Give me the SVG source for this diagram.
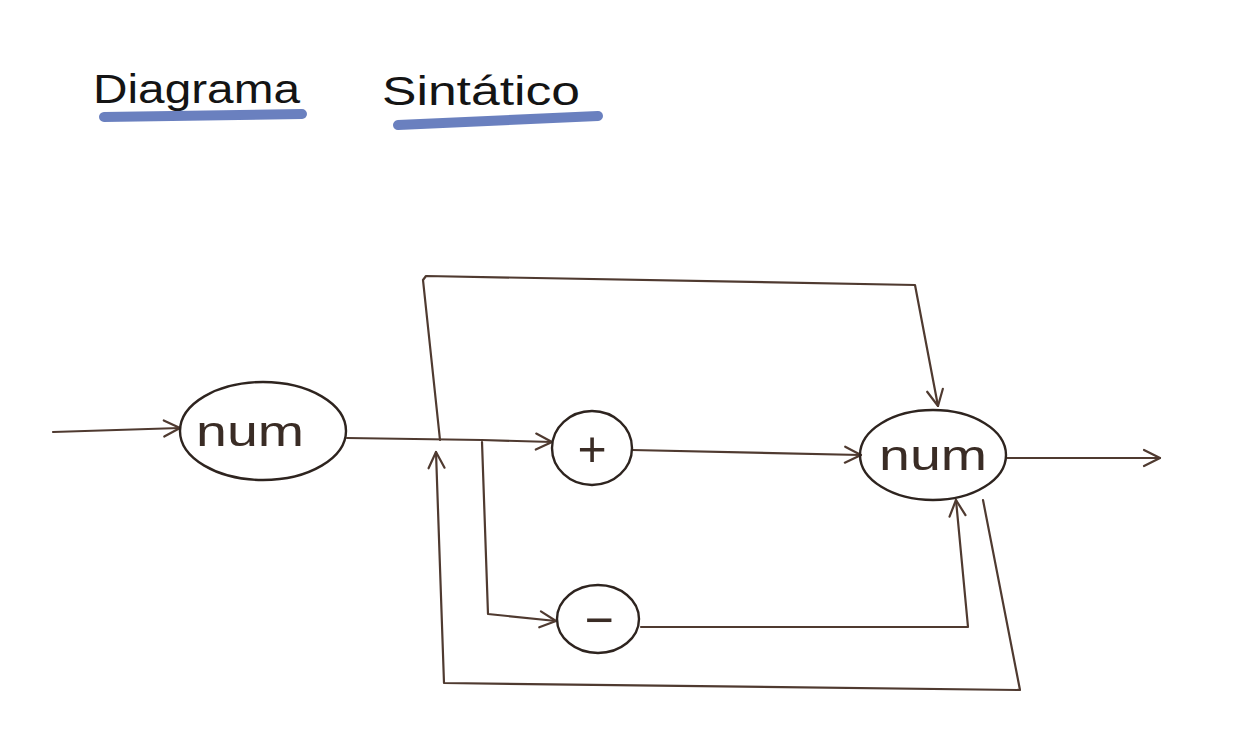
<svg xmlns="http://www.w3.org/2000/svg" width="1252" height="754" viewBox="0 0 1252 754">
<style>
.bg{fill:#ffffff}
.ln{fill:none;stroke:#4f3a30;stroke-width:2.2;stroke-linecap:round;stroke-linejoin:round}
.nd{fill:none;stroke:#2e241f;stroke-width:2.4}
.lbl{font-family:"Liberation Sans","DejaVu Sans",sans-serif;font-size:42px;fill:#3a2c25;text-anchor:middle}
.sym{font-family:"Liberation Sans","DejaVu Sans",sans-serif;font-size:50px;fill:#3a2c25;text-anchor:middle}
.title{font-family:"Liberation Sans","DejaVu Sans",sans-serif;font-size:40px;fill:#141414}
.ul{stroke:#5a72b8;stroke-width:10;stroke-linecap:round;fill:none;opacity:0.9}
.ah{fill:none;stroke:#4f3a30;stroke-width:2.2;stroke-linecap:round;stroke-linejoin:round}
</style>
<defs>
<marker id="arr" viewBox="0 0 20 20" refX="18" refY="10" markerWidth="20" markerHeight="20" markerUnits="userSpaceOnUse" orient="auto">
<path d="M2,2 L18,10 L2,18" class="ah"/>
</marker>
</defs>
<rect class="bg" x="0" y="0" width="1252" height="754"/>
<g id="title">
<text class="title" x="93" y="103" textLength="207" lengthAdjust="spacingAndGlyphs">Diagrama</text>
<path class="ul" d="M104,117 L302,114"/>
<text class="title" x="382" y="105" textLength="198" lengthAdjust="spacingAndGlyphs">Sintático</text>
<path class="ul" d="M398,125 L598,116"/>
</g>
<g id="connectors">
<path class="ln" d="M53,432 L180,428" marker-end="url(#arr)"/>
<path class="ln" d="M347,438 L482,440 L552,442" marker-end="url(#arr)"/>
<path class="ln" d="M440,440 L423,280 L426,276 L915,285 L938,406" marker-end="url(#arr)"/>
<path class="ln" d="M482,442 L488,614 L556,621" marker-end="url(#arr)"/>
<path class="ln" d="M632,450 L861,455" marker-end="url(#arr)"/>
<path class="ln" d="M641,627 L968,627 L956,500" marker-end="url(#arr)"/>
<path class="ln" d="M983,500 L1020,690 L444,683 L436,452" marker-end="url(#arr)"/>
<path class="ln" d="M1007,458 L1160,458" marker-end="url(#arr)"/>
</g>
<g id="node-num-in">
<ellipse class="nd" cx="263" cy="431" rx="83" ry="49"/>
<text class="lbl" x="250" y="446" textLength="108" lengthAdjust="spacingAndGlyphs">num</text>
</g>
<g id="node-plus">
<ellipse class="nd" cx="592" cy="448" rx="40" ry="37"/>
<text class="sym" x="592" y="466">+</text>
</g>
<g id="node-minus">
<ellipse class="nd" cx="598" cy="619" rx="41" ry="34"/>
<text class="sym" x="599" y="637">−</text>
</g>
<g id="node-num-out">
<ellipse class="nd" cx="933" cy="455" rx="73" ry="45"/>
<text class="lbl" x="933" y="470" textLength="108" lengthAdjust="spacingAndGlyphs">num</text>
</g>
</svg>
